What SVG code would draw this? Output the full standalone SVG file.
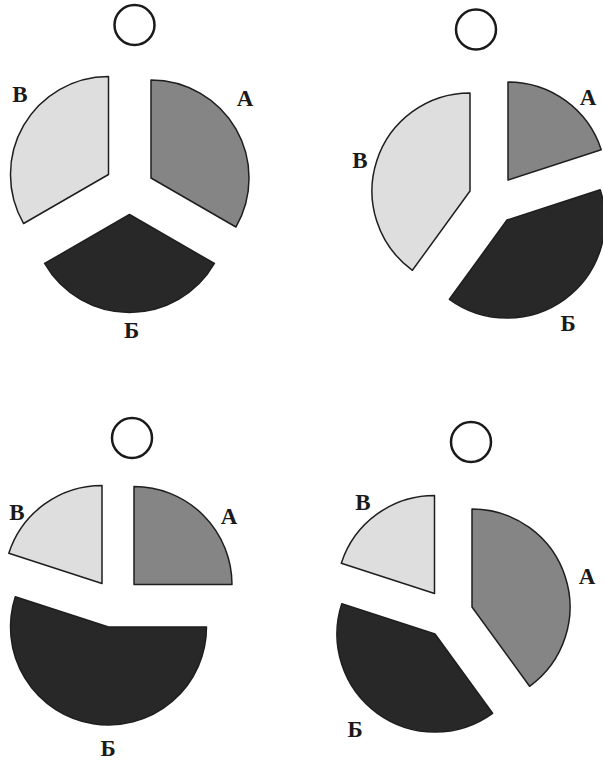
<svg xmlns="http://www.w3.org/2000/svg" width="603" height="761" viewBox="0 0 603 761">
<style>
.bg{fill:#ffffff}
.ring{fill:none;stroke:#1a1a1a;stroke-width:2.5}
.sa{fill:#858585;stroke:#1e1e1e;stroke-width:1.5;stroke-linejoin:round}
.sb{fill:#282828;stroke:#1e1e1e;stroke-width:1.5;stroke-linejoin:round}
.sv{fill:#dedede;stroke:#1e1e1e;stroke-width:1.5;stroke-linejoin:round}
.lbl{font-family:"Liberation Serif","DejaVu Serif",serif;font-size:23px;font-weight:bold;fill:#1a1a1a;text-anchor:middle}
</style>
<rect class="bg" x="0" y="0" width="603" height="761"/>
<g id="pie1">
<circle class="ring" cx="134.5" cy="25" r="20"/>
<path class="sa" d="M151,178 L151,80 A98,98 0 0 1 235.9,227 Z"/>
<path class="sv" d="M108.5,174.5 L23.6,223.5 A98,98 0 0 1 108.5,76.5 Z"/>
<path class="sb" d="M129.5,214.5 L214.4,263.5 A98,98 0 0 1 44.6,263.5 Z"/>
<text class="lbl" x="20" y="102">В</text>
<text class="lbl" x="245" y="106">А</text>
<text class="lbl" x="131.5" y="338">Б</text>
</g>
<g id="pie2">
<circle class="ring" cx="476" cy="29.5" r="20"/>
<path class="sa" d="M508,180 L508,82 A98,98 0 0 1 601.2,149.7 Z"/>
<path class="sb" d="M507,220 L600.2,189.7 A98,98 0 0 1 449.4,299.3 Z"/>
<path class="sv" d="M470,191 L412.4,270.3 A98,98 0 0 1 470,93 Z"/>
<text class="lbl" x="588" y="105">А</text>
<text class="lbl" x="360" y="168">В</text>
<text class="lbl" x="568" y="331">Б</text>
</g>
<g id="pie3">
<circle class="ring" cx="132" cy="438" r="20"/>
<path class="sa" d="M134,584.5 L134,486.5 A98,98 0 0 1 232,584.5 Z"/>
<path class="sv" d="M102,583.5 L8.8,553.2 A98,98 0 0 1 102,485.5 Z"/>
<path class="sb" d="M108.5,627 L206.5,627 A98,98 0 1 1 15.3,596.7 Z"/>
<text class="lbl" x="17" y="520">В</text>
<text class="lbl" x="229" y="524">А</text>
<text class="lbl" x="108" y="756">Б</text>
</g>
<g id="pie4">
<circle class="ring" cx="471" cy="442" r="20"/>
<path class="sa" d="M472,607 L472,509 A98,98 0 0 1 529.6,686.3 Z"/>
<path class="sv" d="M434.5,593.5 L341.3,563.2 A98,98 0 0 1 434.5,495.5 Z"/>
<path class="sb" d="M435,634 L492.6,713.3 A98,98 0 0 1 341.8,603.7 Z"/>
<text class="lbl" x="363" y="510">В</text>
<text class="lbl" x="587" y="584">А</text>
<text class="lbl" x="355" y="737">Б</text>
</g>
</svg>
